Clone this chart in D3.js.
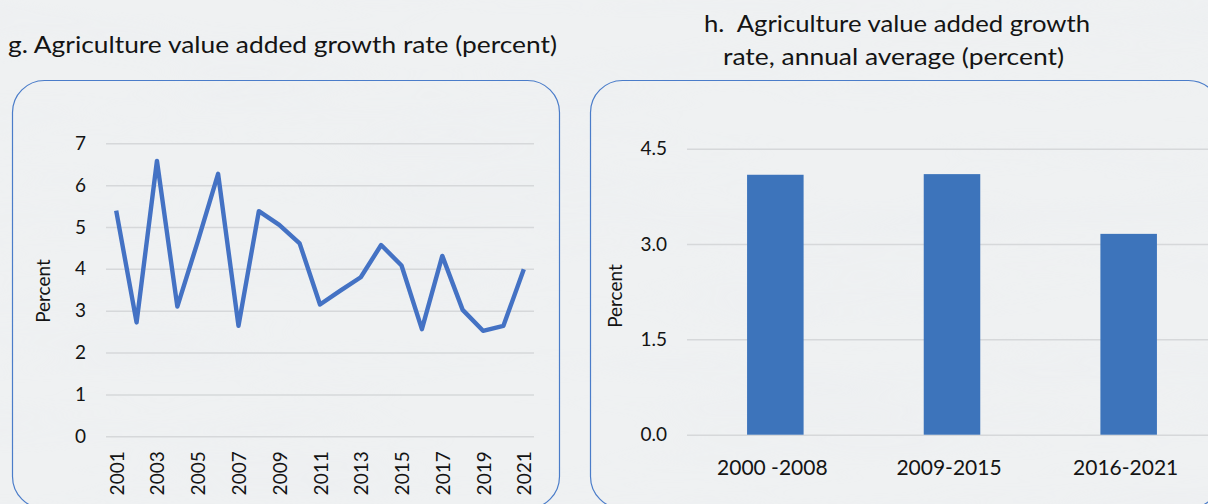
<!DOCTYPE html>
<html>
<head>
<meta charset="utf-8">
<script src="https://cdn.jsdelivr.net/npm/d3@7/dist/d3.min.js"></script>
<style>
  html, body { margin: 0; padding: 0; background: #eef0f1; }
  svg { display: block; }
  text { font-family: Lato, "Open Sans", sans-serif; fill: #141414; white-space: pre; }
</style>
</head>
<body>
<svg id="chart" width="1208" height="504"></svg>
<script>
// Panel g: annual agriculture value added growth rate (percent)
const years = ["2001","2002","2003","2004","2005","2006","2007","2008","2009","2010","2011",
               "2012","2013","2014","2015","2016","2017","2018","2019","2020","2021"];
const growthRate = [5.39, 2.72, 6.58, 3.10, 4.65, 6.27, 2.64, 5.38, 5.05, 4.61, 3.15,
                    3.48, 3.80, 4.57, 4.08, 2.56, 4.31, 3.02, 2.52, 2.64, 3.99];
const growthTicks = [0, 1, 2, 3, 4, 5, 6, 7];
const yearLabels = ["2001","2003","2005","2007","2009","2011","2013","2015","2017","2019","2021"];

// Panel h: annual average growth by period (percent)
const periods = ["2000 -2008", "2009-2015", "2016-2021"];
const periodAverage = [4.09, 4.10, 3.16];
const averageTicks = [0, 1.5, 3.0, 4.5];

const svg = d3.select("#chart");

// soft paper-like background
const defs = svg.append("defs");
const tex = defs.append("filter").attr("id", "paper")
  .attr("x", 0).attr("y", 0).attr("width", "100%").attr("height", "100%");
tex.append("feTurbulence").attr("type", "fractalNoise")
  .attr("baseFrequency", "0.003 0.02").attr("numOctaves", 3).attr("seed", 7);
tex.append("feColorMatrix").attr("type", "matrix")
  .attr("values", "0 0 0 0 0.80  0 0 0 0 0.82  0 0 0 0 0.86  0 0 0 -0.9 0.55");
svg.append("rect").attr("width", 1208).attr("height", 504).attr("fill", "#eff1f2");
svg.append("rect").attr("width", 1208).attr("height", 504).attr("filter", "url(#paper)").attr("opacity", 0.45);

// rounded frames
svg.append("rect").attr("x", 12.5).attr("y", 80.5).attr("width", 547).attr("height", 428)
  .attr("rx", 32).attr("fill", "none").attr("stroke", "#4a7cc9").attr("stroke-width", 1.2);
svg.append("rect").attr("x", 590.5).attr("y", 80.5).attr("width", 630).attr("height", 428)
  .attr("rx", 32).attr("fill", "none").attr("stroke", "#4a7cc9").attr("stroke-width", 1.2);

// titles
svg.append("text").attr("x", 8).attr("y", 53).attr("font-size", 23)
  .attr("textLength", 549).attr("lengthAdjust", "spacingAndGlyphs")
  .text("g. Agriculture value added growth rate (percent)");
svg.append("text").attr("x", 704).attr("y", 32).attr("font-size", 23)
  .attr("textLength", 386).attr("lengthAdjust", "spacingAndGlyphs")
  .text("h.  Agriculture value added growth");
svg.append("text").attr("x", 723).attr("y", 65).attr("font-size", 23)
  .attr("textLength", 341).attr("lengthAdjust", "spacingAndGlyphs")
  .text("rate, annual average (percent)");

const gridColor = "#d6d8da";

// ---------- panel g: line chart ----------
const xg = d3.scalePoint().domain(years).range([106, 534]).padding(0.5);
const yg = d3.scaleLinear().domain([0, 7]).range([436.3, 143.3]);

const gAxisY = svg.append("g").attr("transform", "translate(106,0)")
  .call(d3.axisLeft(yg).tickValues(growthTicks).tickSize(-428).tickPadding(20).tickFormat(d3.format("d")));
gAxisY.select(".domain").remove();
gAxisY.selectAll("line").attr("stroke", gridColor).attr("stroke-width", 1.5);
gAxisY.selectAll("text").attr("font-size", 19).attr("font-family", "Lato, sans-serif").attr("fill", "#141414");

const gAxisX = svg.append("g").attr("transform", "translate(0,436.3)")
  .call(d3.axisBottom(xg).tickValues(yearLabels).tickSize(0).tickPadding(0));
gAxisX.select(".domain").remove();
gAxisX.selectAll("text")
  .attr("font-size", 19).attr("font-family", "Lato, sans-serif").attr("fill", "#141414")
  .attr("text-anchor", "end").attr("dy", null)
  .attr("transform", "translate(7,15) rotate(-90)");

svg.append("text").attr("font-size", 19)
  .attr("transform", "translate(50,291) rotate(-90)").attr("text-anchor", "middle")
  .text("Percent");

const line = d3.line().x((d, i) => xg(years[i])).y(d => yg(d));
svg.append("path").datum(growthRate).attr("d", line)
  .attr("fill", "none").attr("stroke", "#4472c4").attr("stroke-width", 4.4)
  .attr("stroke-linejoin", "round");

// ---------- panel h: bar chart ----------
const xh = d3.scaleBand().domain(periods).range([687, 1217]).paddingInner(0.68).paddingOuter(0.34);
const yh = d3.scaleLinear().domain([0, 4.5]).range([434.7, 148.7]);

const hAxisY = svg.append("g").attr("transform", "translate(687,0)")
  .call(d3.axisLeft(yh).tickValues(averageTicks).tickSize(-530).tickPadding(20).tickFormat(d3.format(".1f")));
hAxisY.select(".domain").remove();
hAxisY.selectAll("line").attr("stroke", gridColor).attr("stroke-width", 1.5);
hAxisY.selectAll("text").attr("font-size", 19).attr("font-family", "Lato, sans-serif").attr("fill", "#141414");

svg.append("text").attr("font-size", 19)
  .attr("transform", "translate(622,296) rotate(-90)").attr("text-anchor", "middle")
  .text("Percent");

svg.append("g").selectAll("rect").data(periodAverage).join("rect")
  .attr("x", (d, i) => xh(periods[i]))
  .attr("width", xh.bandwidth())
  .attr("y", d => yh(d))
  .attr("height", d => yh(0) - yh(d))
  .attr("fill", "#3d74bb");

const hAxisX = svg.append("g").attr("transform", "translate(0,434.7)")
  .call(d3.axisBottom(xh).tickSize(0).tickPadding(0));
hAxisX.select(".domain").remove();
hAxisX.selectAll("text")
  .attr("font-size", 21).attr("font-family", "Lato, sans-serif").attr("fill", "#141414")
  .attr("dy", null).attr("y", 40).attr("x", -3);
</script>
</body>
</html>
